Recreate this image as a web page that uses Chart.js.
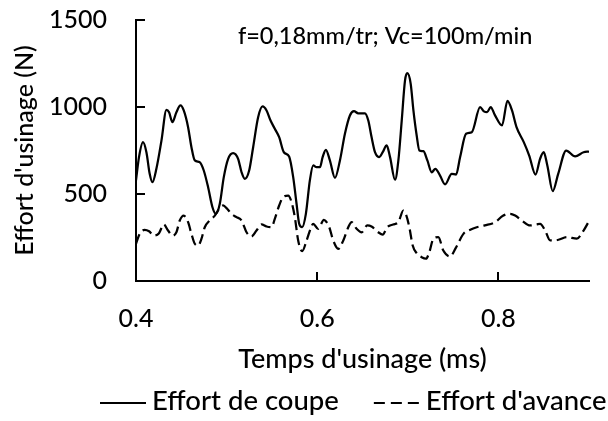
<!DOCTYPE html>
<html>
<head>
<meta charset="utf-8">
<script src="https://cdn.jsdelivr.net/npm/chart.js@4.4.1/dist/chart.umd.min.js"></script>
<style>
  html, body { margin: 0; padding: 0; background: #fff; }
  #wrap { width: 608px; height: 421px; }
</style>
</head>
<body>
<div id="wrap"><canvas id="effortChart" width="608" height="421"></canvas></div>
<script>
// Effort de coupe (trait plein) - temps en ms, effort en N
const coupeTime = [
  0.400, 0.4033, 0.4077, 0.4115, 0.4151, 0.4181, 0.4225, 0.4281, 0.4336, 0.4365,
  0.4402, 0.4446, 0.4491, 0.4527, 0.4575, 0.4612, 0.4649, 0.4704, 0.4748, 0.4796,
  0.4844, 0.4881, 0.4925, 0.4969, 0.5017, 0.5072, 0.5127, 0.5165, 0.5201, 0.5249,
  0.5293, 0.5348, 0.5397, 0.5441, 0.5485, 0.5532, 0.5580, 0.5632, 0.5690, 0.5735,
  0.5772, 0.5801, 0.5834, 0.5875, 0.5919, 0.5956, 0.5993, 0.6030, 0.6060, 0.6096,
  0.6140, 0.6196, 0.6251, 0.6306, 0.6361, 0.6406, 0.6453, 0.6527, 0.6564, 0.6600,
  0.6638, 0.6682, 0.6723, 0.6767, 0.6804, 0.6859, 0.6896, 0.6933, 0.6969, 0.6995,
  0.7032, 0.7062, 0.7098, 0.7128, 0.7172, 0.7216, 0.7264, 0.7304, 0.7356, 0.7411,
  0.7485, 0.7533, 0.7577, 0.7643, 0.7706, 0.7798, 0.7840, 0.7875, 0.7915, 0.7960,
  0.8040, 0.8100, 0.8150, 0.8200, 0.8280, 0.8340, 0.8410, 0.8460, 0.8500, 0.8540,
  0.8600, 0.8660, 0.8748, 0.8847, 0.8940, 0.9000
];
const coupeForce = [
  578, 712, 798, 740, 616, 568, 645, 807, 984, 970,
  913, 970, 1009, 980, 884, 769, 693, 683, 635, 539,
  424, 386, 444, 597, 702, 735, 702, 625, 587, 635,
  769, 941, 1003, 980, 922, 875, 827, 740, 715, 597,
  444, 329, 309, 386, 578, 664, 654, 654, 712, 754,
  693, 593, 693, 846, 951, 976, 964, 964, 922, 827,
  740, 712, 740, 779, 712, 582, 693, 922, 1152, 1194,
  1133, 980, 836, 750, 746, 693, 625, 645, 606, 555,
  616, 612, 711, 846, 855, 999, 975, 970, 1000, 955,
  894, 1035, 980, 884, 798, 721, 612, 702, 740, 664,
  516, 616, 750, 716, 740, 744
];

// Effort d'avance (trait pointillé)
const avanceTime = [
  0.4000, 0.4041, 0.4096, 0.4144, 0.4196, 0.4254, 0.4306, 0.4354, 0.4402, 0.4446,
  0.4483, 0.4527, 0.4575, 0.4612, 0.4649, 0.4685, 0.4723, 0.4759, 0.4814, 0.4870,
  0.4917, 0.4961, 0.5006, 0.5054, 0.5109, 0.5165, 0.5220, 0.5275, 0.5330, 0.5385,
  0.5441, 0.5496, 0.5532, 0.5580, 0.5624, 0.5680, 0.5717, 0.5753, 0.5790, 0.5834,
  0.5883, 0.5927, 0.5956, 0.6011, 0.6074, 0.6133, 0.6177, 0.6232, 0.6288, 0.6343,
  0.6380, 0.6435, 0.6491, 0.6553, 0.6600, 0.6674, 0.6723, 0.6773, 0.6838, 0.6896,
  0.6950, 0.6980, 0.7017, 0.7054, 0.7098, 0.7153, 0.7201, 0.7238, 0.7282, 0.7337,
  0.7392, 0.7466, 0.7530, 0.7614, 0.7690, 0.7761, 0.7850, 0.7964, 0.8050, 0.8129,
  0.8185, 0.8258, 0.8350, 0.8420, 0.8460, 0.8516, 0.8571, 0.8663, 0.8756, 0.8866,
  0.8940, 0.9000
];
const avanceForce = [
  214, 271, 294, 286, 261, 275, 325, 290, 261, 280,
  348, 376, 338, 271, 214, 204, 243, 309, 348, 376,
  415, 434, 415, 386, 367, 348, 280, 256, 290, 325,
  313, 309, 357, 434, 482, 491, 453, 367, 233, 171,
  233, 300, 329, 300, 352, 309, 233, 185, 233, 309,
  338, 300, 280, 319, 313, 280, 267, 309, 325, 338,
  405, 382, 309, 204, 160, 137, 128, 166, 243, 252,
  175, 141, 190, 271, 295, 309, 320, 338, 375, 386,
  376, 348, 319, 325, 329, 290, 233, 237, 252, 243,
  290, 344
];

const xTicks = [0.4, 0.6, 0.8];
const yTicks = [0, 500, 1000, 1500];
const seriesLabels = ["Effort de coupe", "Effort d'avance"];
const xTitle = "Temps d'usinage (ms)";
const yTitle = "Effort d'usinage (N)";
const conditionsText = "f=0,18mm/tr; Vc=100m/min";

const FONT = "Lato, 'Open Sans', sans-serif";
const WEIGHT = '500';

// petites graduations tournées vers l'intérieur, comme dans Excel
const insideTicks = {
  id: 'insideTicks',
  afterDraw(chart) {
    const { ctx, chartArea, scales } = chart;
    const len = 9;
    ctx.save();
    ctx.strokeStyle = '#000';
    ctx.lineWidth = 2;
    ctx.beginPath();
    xTicks.forEach(v => {
      const px = Math.round(scales.x.getPixelForValue(v));
      if (px <= chartArea.left + 1) return;
      ctx.moveTo(px, chartArea.bottom);
      ctx.lineTo(px, chartArea.bottom - len);
    });
    yTicks.forEach(v => {
      const py = Math.round(scales.y.getPixelForValue(v));
      if (py >= chartArea.bottom - 1) return;
      ctx.moveTo(chartArea.left, py);
      ctx.lineTo(chartArea.left + len, py);
    });
    ctx.stroke();
    ctx.restore();
  }
};

const conditionsLabel = {
  id: 'conditionsLabel',
  afterDraw(chart) {
    const { ctx, scales } = chart;
    ctx.save();
    ctx.font = `${WEIGHT} 23.5px ${FONT}`;
    ctx.fillStyle = '#000';
    ctx.textAlign = 'center';
    ctx.textBaseline = 'middle';
    ctx.fillText(conditionsText, scales.x.getPixelForValue(0.675), scales.y.getPixelForValue(1405));
    ctx.restore();
  }
};

const bottomLegend = {
  id: 'bottomLegend',
  afterDraw(chart) {
    const { ctx } = chart;
    const lineY = 403;
    const textY = 410;
    let x = 100;
    ctx.save();
    ctx.font = `${WEIGHT} 27.5px ${FONT}`;
    ctx.fillStyle = '#000';
    ctx.textBaseline = 'alphabetic';
    chart.data.datasets.forEach(ds => {
      const sample = 46;
      ctx.strokeStyle = ds.borderColor;
      ctx.lineWidth = 2;
      ctx.setLineDash(ds.borderDash ? [11, 6] : []);
      ctx.beginPath();
      ctx.moveTo(x, lineY);
      ctx.lineTo(x + sample, lineY);
      ctx.stroke();
      ctx.setLineDash([]);
      ctx.fillText(ds.label, x + sample + 6, textY);
      x += sample + 6 + ctx.measureText(ds.label).width + 35;
    });
    ctx.restore();
  }
};

const toPoints = (xs, ys) => xs.map((t, i) => ({ x: t, y: ys[i] }));

new Chart(document.getElementById('effortChart'), {
  type: 'line',
  data: {
    datasets: [
      {
        label: seriesLabels[0],
        data: toPoints(coupeTime, coupeForce),
        borderColor: '#000',
        borderWidth: 2.25,
        pointRadius: 0,
        cubicInterpolationMode: 'monotone',
        fill: false
      },
      {
        label: seriesLabels[1],
        data: toPoints(avanceTime, avanceForce),
        borderColor: '#000',
        borderWidth: 2.25,
        borderDash: [10, 5],
        pointRadius: 0,
        cubicInterpolationMode: 'monotone',
        fill: false
      }
    ]
  },
  options: {
    responsive: false,
    animation: false,
    layout: { padding: { left: 0, top: 20, right: 19, bottom: 0 } },
    plugins: { legend: { display: false }, tooltip: { enabled: false } },
    scales: {
      x: {
        type: 'linear',
        min: 0.4,
        max: 0.9,
        afterBuildTicks: s => { s.ticks = xTicks.map(v => ({ value: v })); },
        afterFit: s => { s.height = 140; s.paddingLeft = 0; s.paddingRight = 0; },
        grid: { display: false, drawTicks: false },
        border: { display: true, color: '#000', width: 2 },
        ticks: {
          color: '#000', padding: 23, maxRotation: 0, autoSkip: false,
          font: { family: FONT, size: 25, weight: WEIGHT },
          callback: v => v.toFixed(1)
        },
        title: {
          display: true, text: xTitle, color: '#000',
          font: { family: FONT, size: 27, weight: WEIGHT },
          padding: { top: 0, bottom: 46 }
        }
      },
      y: {
        type: 'linear',
        min: 0,
        max: 1500,
        afterBuildTicks: s => { s.ticks = yTicks.map(v => ({ value: v })); },
        afterFit: s => { s.width = 136; s.paddingTop = 0; s.paddingBottom = 0; },
        grid: { display: false, drawTicks: false },
        border: { display: true, color: '#000', width: 2 },
        ticks: {
          color: '#000', padding: 29,
          font: { family: FONT, size: 25, weight: WEIGHT },
          callback: v => String(v)
        },
        title: {
          display: true, text: yTitle, color: '#000',
          font: { family: FONT, size: 25, weight: WEIGHT },
          padding: { top: 10, bottom: 0 }
        }
      }
    }
  },
  plugins: [insideTicks, conditionsLabel, bottomLegend]
});
</script>
</body>
</html>
